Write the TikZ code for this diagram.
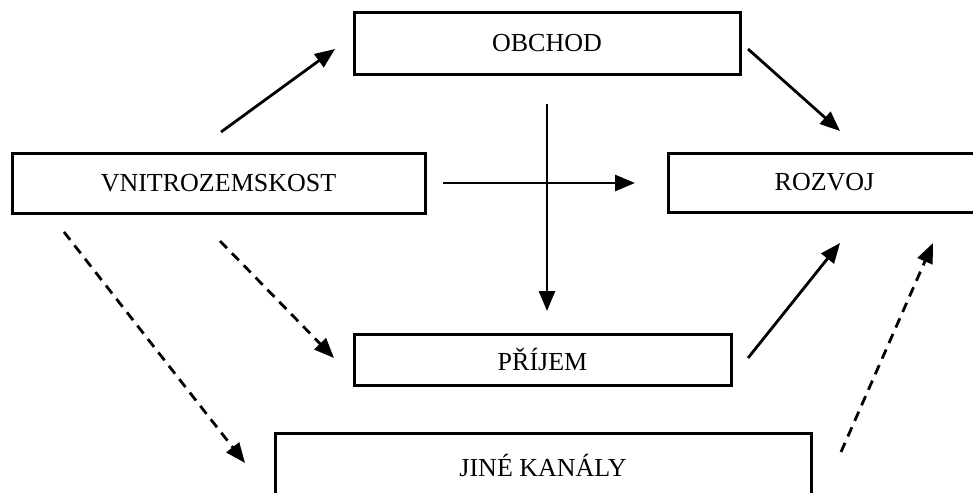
\documentclass[tikz,border=0pt]{standalone}
\usepackage{fontspec}
\setmainfont{Liberation Serif}
\usetikzlibrary{arrows.meta}
\tikzset{
  box/.style={draw=black, line width=3pt, rectangle, inner sep=0pt, font=\fontsize{26}{30}\selectfont},
  conn/.style={line width=2.8pt, -{Triangle[length=20pt,width=16pt]}},
  dconn/.style={conn, dash pattern=on 10pt off 7pt}
}
\begin{document}
\begin{tikzpicture}[x=1pt,y=-1pt]
\useasboundingbox (0,0) rectangle (973,492);
\fill[white] (0,0) rectangle (973,492);
\clip (0,0) rectangle (973,492);
\node[box, minimum width=386pt, minimum height=62pt] (obchod) at (547,43.5) {OBCHOD};
\node[box, minimum width=413pt, minimum height=60pt] (vnitro) at (218.5,183) {VNITROZEMSKOST};
\node[box, minimum width=313pt, minimum height=59pt] (rozvoj) at (824.5,182.5) {ROZVOJ};
\node[box, minimum width=377pt, minimum height=51pt] (prijem) at (542.5,359.5) {PŘÍJEM};
\node[box, minimum width=536pt, minimum height=64pt] (jine) at (543,465) {JINÉ KANÁLY};
% connector end points
\coordinate (a1s) at (221,132);  \coordinate (a1e) at (335,49);
\coordinate (a2s) at (748,49);   \coordinate (a2e) at (840,131);
\coordinate (a3s) at (443,183);  \coordinate (a3e) at (635,183);
\coordinate (a4s) at (547,104);  \coordinate (a4e) at (547,311);
\coordinate (a5s) at (748,358);  \coordinate (a5e) at (840,243);
\coordinate (a6s) at (841,452);  \coordinate (a6e) at (933,243);
\coordinate (a7s) at (64,232);   \coordinate (a7e) at (245,463);
\coordinate (a8s) at (220,241);  \coordinate (a8e) at (334,358);
\draw[conn] (a1s) -- (a1e);
\draw[conn] (a2s) -- (a2e);
\draw[conn] (a3s) -- (a3e);
\draw[conn] (a4s) -- (a4e);
\draw[conn] (a5s) -- (a5e);
\draw[dconn] (a6s) -- (a6e);
\draw[dconn] (a7s) -- (a7e);
\draw[dconn] (a8s) -- (a8e);
\end{tikzpicture}
\end{document}
